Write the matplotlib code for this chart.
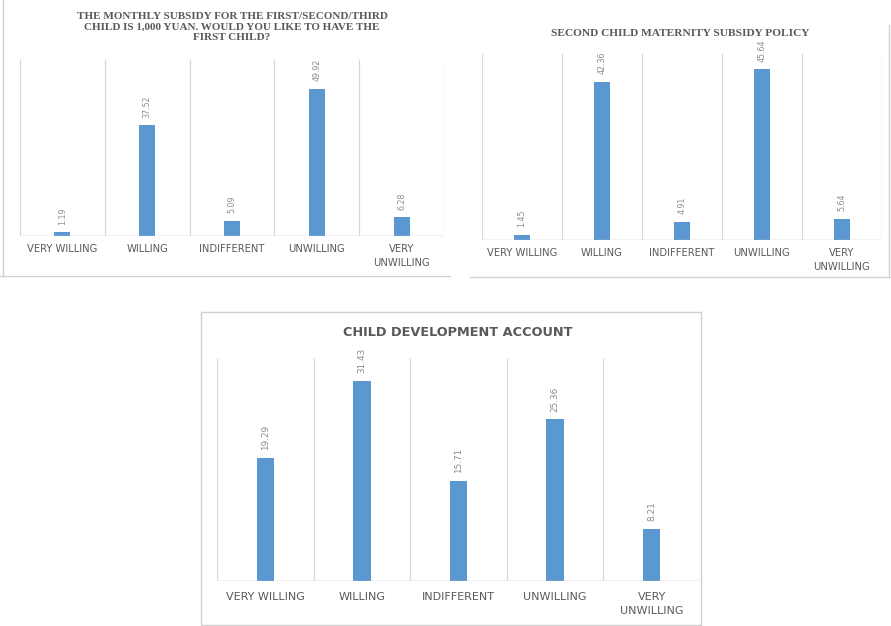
import numpy as np
import matplotlib.pyplot as plt
from matplotlib.lines import Line2D
from matplotlib.patches import Rectangle

# categories shared by all three panels
categories = ["VERY WILLING", "WILLING", "INDIFFERENT", "UNWILLING", "VERY\nUNWILLING"]

title_first = "THE MONTHLY SUBSIDY FOR THE FIRST/SECOND/THIRD\nCHILD IS 1,000 YUAN. WOULD YOU LIKE TO HAVE THE\nFIRST CHILD?"
values_first = [1.19, 37.52, 5.09, 49.92, 6.28]

title_second = "SECOND CHILD MATERNITY SUBSIDY POLICY"
values_second = [1.45, 42.36, 4.91, 45.64, 5.64]

title_account = "CHILD DEVELOPMENT ACCOUNT"
values_account = [19.29, 31.43, 15.71, 25.36, 8.21]

BAR_COLOR = "#5B97D0"
GRID_COLOR = "#D9D9D9"
TEXT_COLOR = "#595959"
W, H = 891, 626


def px_rect(left, top, right, bottom):
    # pixel box -> figure fraction [l, b, w, h]
    return [left / W, 1 - bottom / H, (right - left) / W, (bottom - top) / H]


def draw_panel(fig, rect, values, ymax, bar_width, label_size, value_size, pad):
    ax = fig.add_axes(rect)
    x = np.arange(len(categories))
    ax.bar(x, values, width=bar_width, color=BAR_COLOR, zorder=3)
    ax.set_xlim(-0.5, len(categories) - 0.5)
    ax.set_ylim(0, ymax)
    ax.vlines(np.arange(len(categories) + 1) - 0.5, 0, ymax, color=GRID_COLOR, lw=0.9, zorder=1)
    ax.axhline(0, color="#BFBFBF", lw=1.0, zorder=4)
    for xi, v in zip(x, values):
        ax.annotate(f"{v:.2f}", (xi, v), xytext=(0, 5.5), textcoords="offset points",
                    rotation=90, ha="center", va="bottom", fontsize=value_size, color="#8C8C8C")
    ax.set_xticks(x)
    ax.set_xticklabels(categories, fontsize=label_size, color=TEXT_COLOR, linespacing=1.5)
    ax.tick_params(axis="x", length=0, pad=pad)
    ax.set_yticks([])
    for s in ax.spines.values():
        s.set_visible(False)
    return ax


fig = plt.figure(figsize=(W / 100, H / 100), dpi=100)

draw_panel(fig, px_rect(20, 59, 444, 236), values_first, 60, 0.19, 7.2, 5.7, 6)
draw_panel(fig, px_rect(482, 53, 882, 240), values_second, 50, 0.19, 7.2, 5.7, 6)
draw_panel(fig, px_rect(217, 358, 700, 581), values_account, 35, 0.18, 8.0, 6.4, 8)

fig.text(232 / W, 1 - 27 / H, title_first, ha="center", va="center", fontsize=8.0,
         family="Liberation Serif", weight="bold", color=TEXT_COLOR, linespacing=1.25)
fig.text(680 / W, 1 - 33 / H, title_second, ha="center", va="center", fontsize=8.2,
         family="Liberation Serif", weight="bold", color=TEXT_COLOR)
fig.text(458 / W, 1 - 332 / H, title_account, ha="center", va="center", fontsize=9.3,
         weight="bold", color=TEXT_COLOR)

# panel frames, as in the screenshot
frame_kw = dict(color="#D0D0D0", lw=1.0, transform=fig.transFigure)
fig.add_artist(Line2D([0, 450 / W], [1 - 276 / H] * 2, **frame_kw))
fig.add_artist(Line2D([3 / W] * 2, [1 - 276 / H, 1], **frame_kw))
fig.add_artist(Line2D([470 / W, 1], [1 - 277 / H] * 2, **frame_kw))
fig.add_artist(Line2D([889 / W] * 2, [1 - 277 / H, 1 - 25 / H], **frame_kw))
fig.add_artist(Rectangle((201 / W, 1 - 625 / H), 500 / W, 313 / H, fill=False,
                         edgecolor="#D0D0D0", lw=1.0, transform=fig.transFigure))

fig.savefig("out.png", dpi=100)
